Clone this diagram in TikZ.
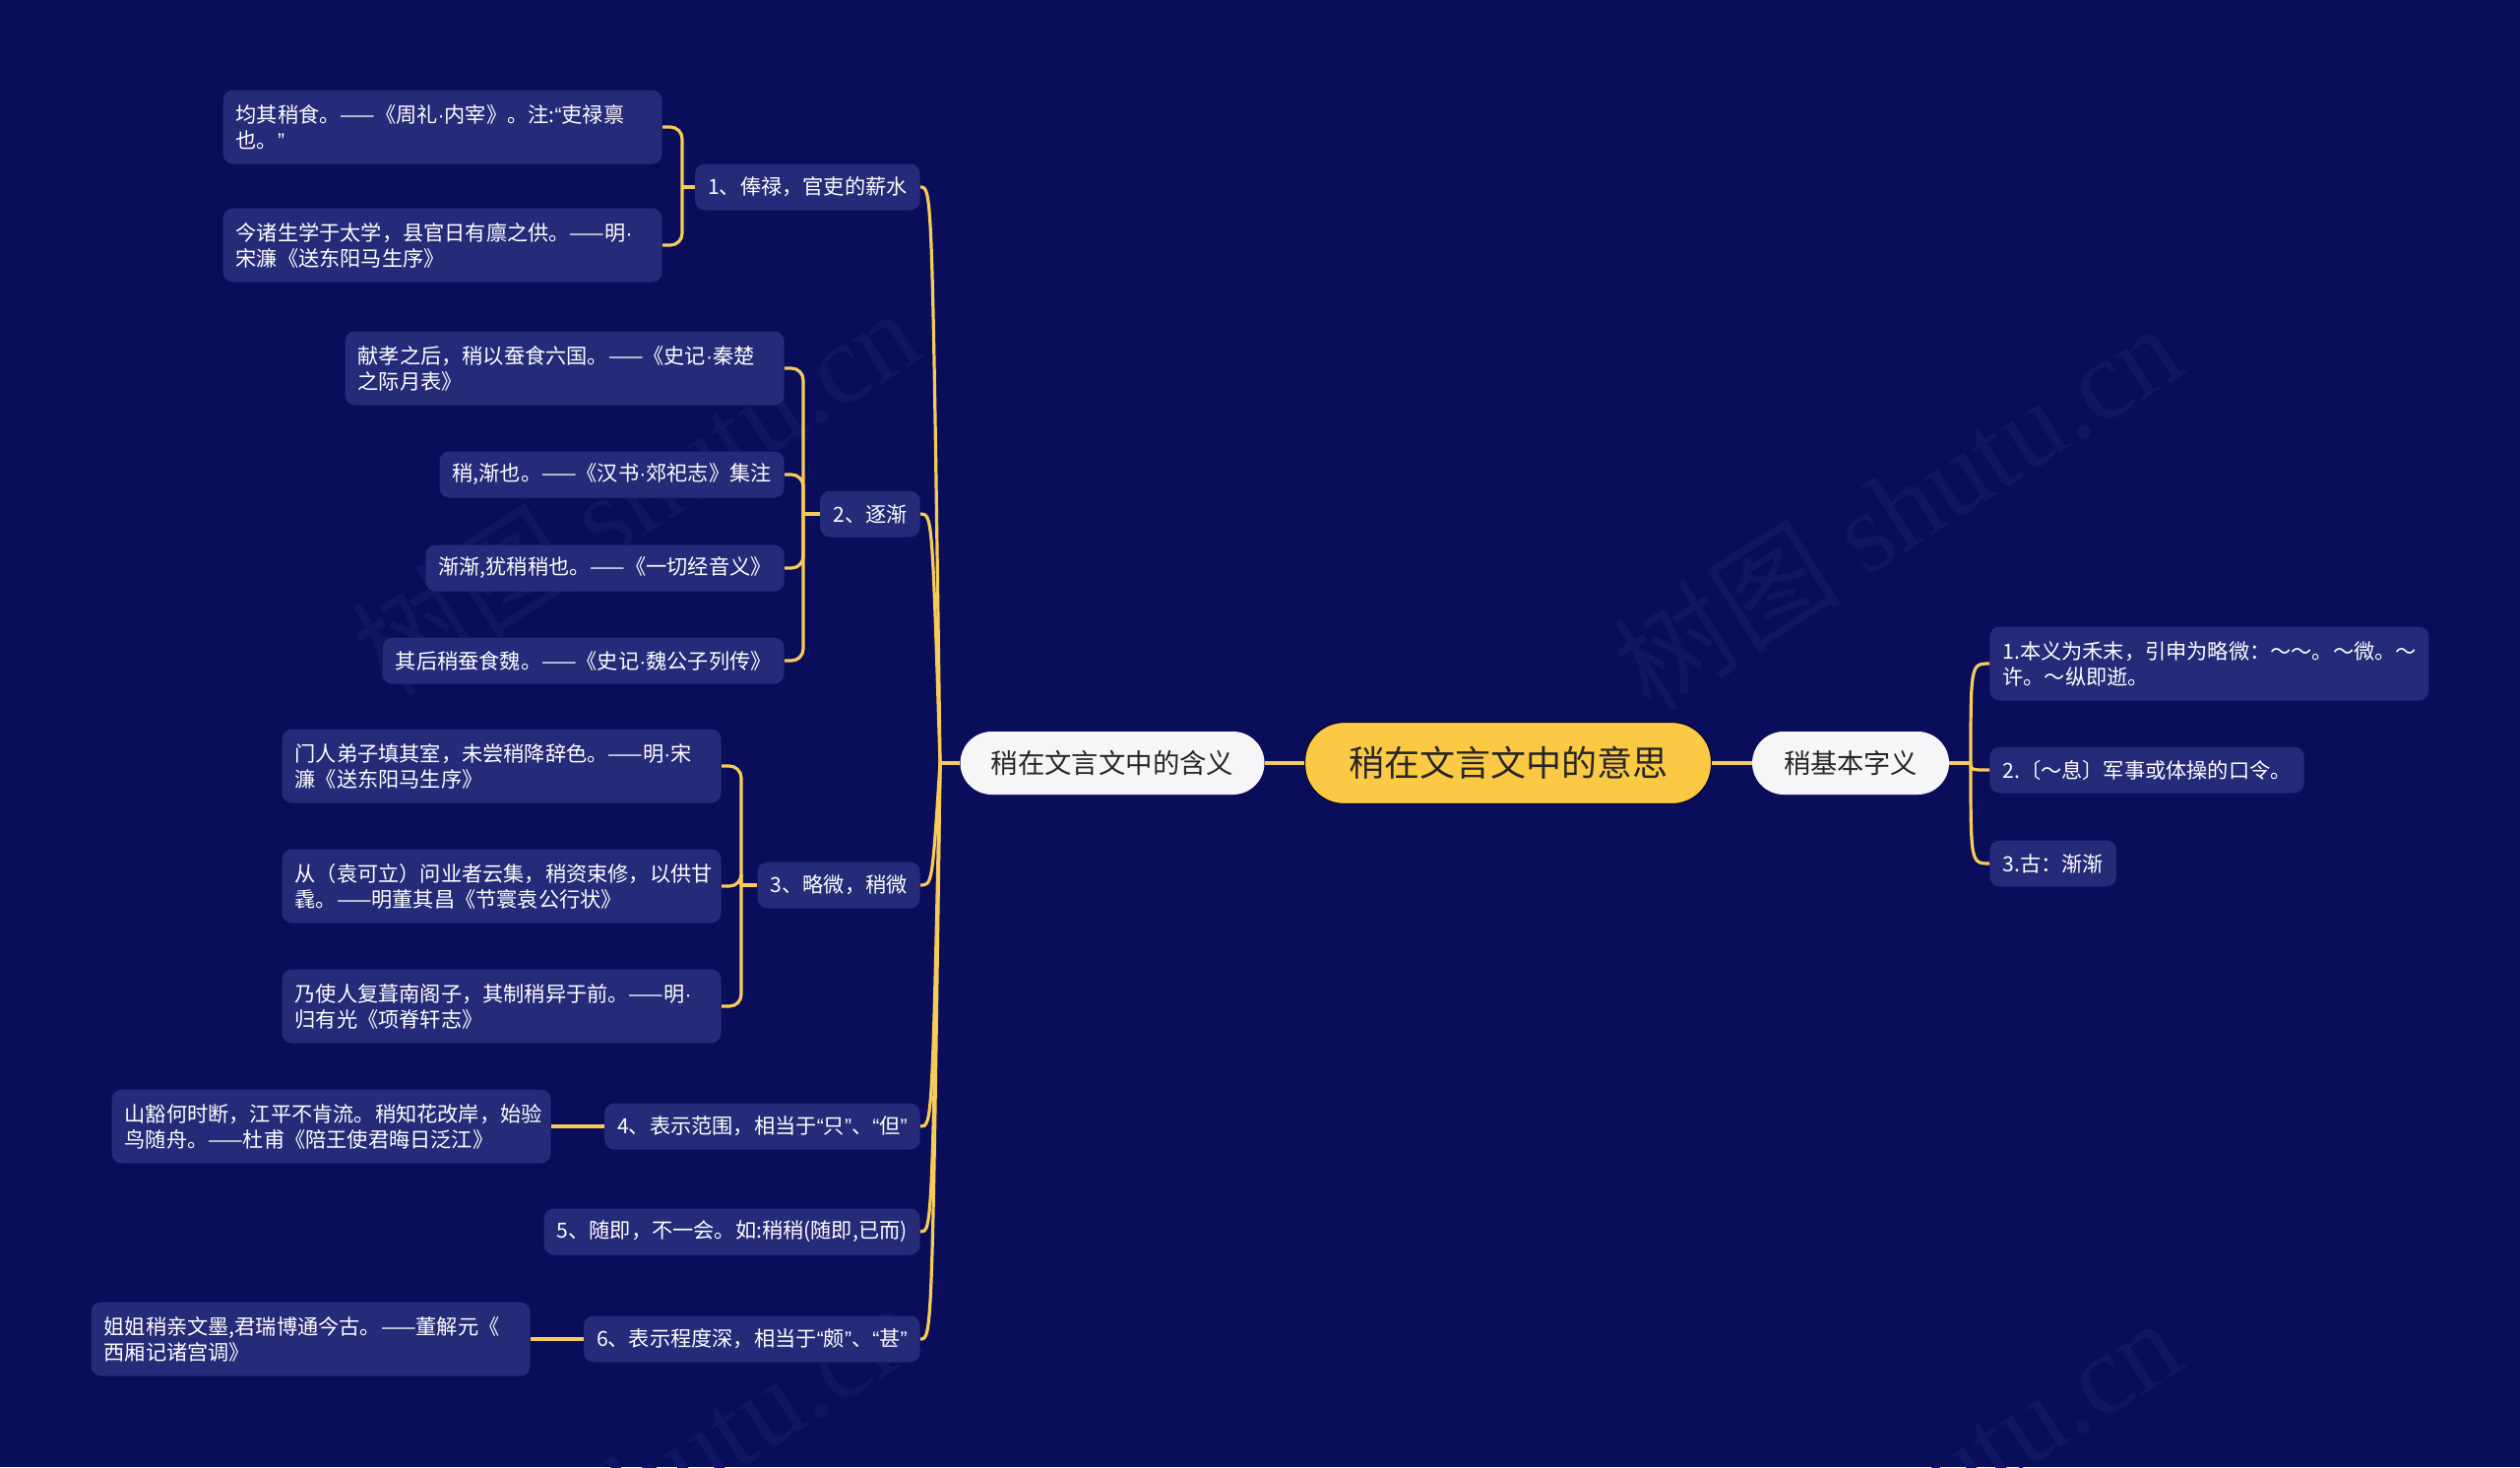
\documentclass[tikz,border=0pt]{standalone}
\usepackage{fontspec}
\setmainfont{Noto Sans CJK SC}
\newfontfamily\wmserif{Liberation Serif}
\newfontfamily\latf{Liberation Sans}
\newcommand\mydot{{\latf ·}}
\newcommand\myoq{{\latf “}}
\newcommand\mycq{{\latf ”}}
\usetikzlibrary{calc}
\definecolor{bgc}{RGB}{10,14,90}
\definecolor{boxc}{RGB}{37,43,120}
\definecolor{ylw}{RGB}{247,203,88}
\definecolor{ctrc}{RGB}{252,201,68}
\definecolor{pillc}{RGB}{246,246,248}
\definecolor{dtext}{RGB}{38,38,38}
\definecolor{wmc}{RGB}{17,22,98}
\tikzset{
  leaf/.style={fill=boxc, rounded corners=5pt, text=white,
    font=\fontsize{10.6}{13}\selectfont, inner xsep=6.5pt, inner ysep=0pt,
    minimum height=23.5pt, align=left},
  leaftwo/.style={leaf, text width=210pt, minimum height=37.5pt},
  pill/.style={fill=pillc, rounded corners=16pt, text=dtext,
    minimum height=32pt, inner sep=0pt},
  conn/.style={draw=ylw, line width=1.6pt},
  brk/.style={conn, rounded corners=6pt},
  wm/.style={text=wmc, rotate=32.5, font=\fontsize{58}{66}\selectfont}
}
\begin{document}
\begin{tikzpicture}[x=0.5pt,y=-0.5pt]
\fill[bgc] (0,0) rectangle (2560,1490);
\useasboundingbox (0,0) rectangle (2560,1490);

% watermarks
\begin{scope}
\clip (0,0) rectangle (2560,1490);
\node[wm] (wm1) at (645,498) {树图 {\wmserif shutu.cn}};
\node[wm] (wm2) at (1927,514) {树图 {\wmserif shutu.cn}};
\node[wm] (wm3) at (645,1508) {树图 {\wmserif shutu.cn}};
\node[wm] (wm4) at (1927,1524) {树图 {\wmserif shutu.cn}};
\end{scope}

% center and level 1
\node[fill=ctrc, draw=black!55!bgc, line width=0.6pt, rounded corners=20pt,
  minimum width=206.5pt, minimum height=41.5pt, inner sep=0pt, text=dtext,
  font=\fontsize{18}{22}\selectfont] (ctr) at (1532,775) {稍在文言文中的意思};
\node[pill, minimum width=154.5pt, font=\fontsize{13.7}{16}\selectfont] (lp) at (1130,775) {稍在文言文中的含义};
\node[pill, minimum width=100pt, font=\fontsize{13.6}{16}\selectfont] (rp) at (1880,775) {稍基本字义};

% left level 2
\node[leaf, anchor=east] (b1) at (935,190) {1、俸禄，官吏的薪水};
\node[leaf, anchor=east] (b2) at (935,522) {2、逐渐};
\node[leaf, anchor=east] (b3) at (935,899) {3、略微，稍微};
\node[leaf, anchor=east] (b4) at (935,1144) {4、表示范围，相当于\myoq 只\mycq 、\myoq 但\mycq};
\node[leaf, anchor=east] (b5) at (935,1251) {5、随即，不一会。如:稍稍(随即,已而)};
\node[leaf, anchor=east] (b6) at (935,1360) {6、表示程度深，相当于\myoq 颇\mycq 、\myoq 甚\mycq};

% left level 3
\node[leaftwo, anchor=east] (c11) at (673,129) {\mbox{均其稍食。——《周礼\mydot 内宰》。注:\myoq 吏禄禀}\\\mbox{也。\mycq}};
\node[leaftwo, anchor=east] (c12) at (673,249) {\mbox{今诸生学于太学，县官日有廪之供。——明\mydot}\\\mbox{宋濂《送东阳马生序》}};

\node[leaftwo, anchor=east] (c21) at (797,374) {\mbox{献孝之后，稍以蚕食六国。——《史记\mydot 秦楚}\\\mbox{之际月表》}};
\node[leaf, anchor=east] (c22) at (797,482) {稍,渐也。——《汉书\mydot 郊祀志》集注};
\node[leaf, anchor=east] (c23) at (797,577) {渐渐,犹稍稍也。——《一切经音义》};
\node[leaf, anchor=east] (c24) at (797,671) {其后稍蚕食魏。——《史记\mydot 魏公子列传》};

\node[leaftwo, anchor=east] (c31) at (733,778) {\mbox{门人弟子填其室，未尝稍降辞色。——明\mydot 宋}\\\mbox{濂《送东阳马生序》}};
\node[leaftwo, anchor=east] (c32) at (733,900) {\mbox{从（袁可立）问业者云集，稍资束修，以供甘}\\\mbox{毳。——明董其昌《节寰袁公行状》}};
\node[leaftwo, anchor=east] (c33) at (733,1022) {\mbox{乃使人复葺南阁子，其制稍异于前。——明\mydot}\\\mbox{归有光《项脊轩志》}};

\node[leaftwo, anchor=east] (c41) at (560,1144) {\mbox{山豁何时断，江平不肯流。稍知花改岸，始验}\\\mbox{鸟随舟。——杜甫《陪王使君晦日泛江》}};
\node[leaftwo, anchor=east] (c61) at (539,1360) {\mbox{姐姐稍亲文墨,君瑞博通今古。——董解元《}\\\mbox{西厢记诸宫调》}};

% right level 2
\node[leaftwo, anchor=west] (r1) at (2021,674) {\mbox{1.本义为禾末，引申为略微：～～。～微。～}\\\mbox{许。～纵即逝。}};
\node[leaf, anchor=west] (r2) at (2021,782) {2.〔～息〕军事或体操的口令。};
\node[leaf, anchor=west] (r3) at (2021,877) {3.古：渐渐};

% center connectors
\draw[conn] (lp.east) -- (ctr.west);
\draw[conn] (ctr.east) -- (rp.west);

% left trunk
\coordinate (jl) at (955,775);
\draw[conn] (lp.west) -- (jl);
\foreach \b in {b1,b2,b3,b4,b5,b6}{
  \draw[conn] (jl) .. controls ($(\b.east)+(12,0)$) .. (\b.east);
}

% right trunk
\coordinate (jr) at (2002,775);
\draw[conn] (rp.east) -- (jr);
\foreach \r in {r1,r2,r3}{
  \draw[conn] (jr) .. controls ($(\r.west)+(-19,0)$) .. (\r.west);
}

% brackets
\coordinate (k1) at (693,190);
\draw[conn] (b1.west) -- (k1);
\draw[brk] (k1) |- (c11.east);
\draw[brk] (k1) |- (c12.east);

\coordinate (k2) at (816,522);
\draw[conn] (b2.west) -- (k2);
\foreach \c in {c21,c22,c23,c24}{ \draw[brk] (k2) |- (\c.east); }

\coordinate (k3) at (753,899);
\draw[conn] (b3.west) -- (k3);
\foreach \c in {c31,c32,c33}{ \draw[brk] (k3) |- (\c.east); }

\draw[conn] (b4.west) -- (c41.east);
\draw[conn] (b6.west) -- (c61.east);
\end{tikzpicture}
\end{document}
